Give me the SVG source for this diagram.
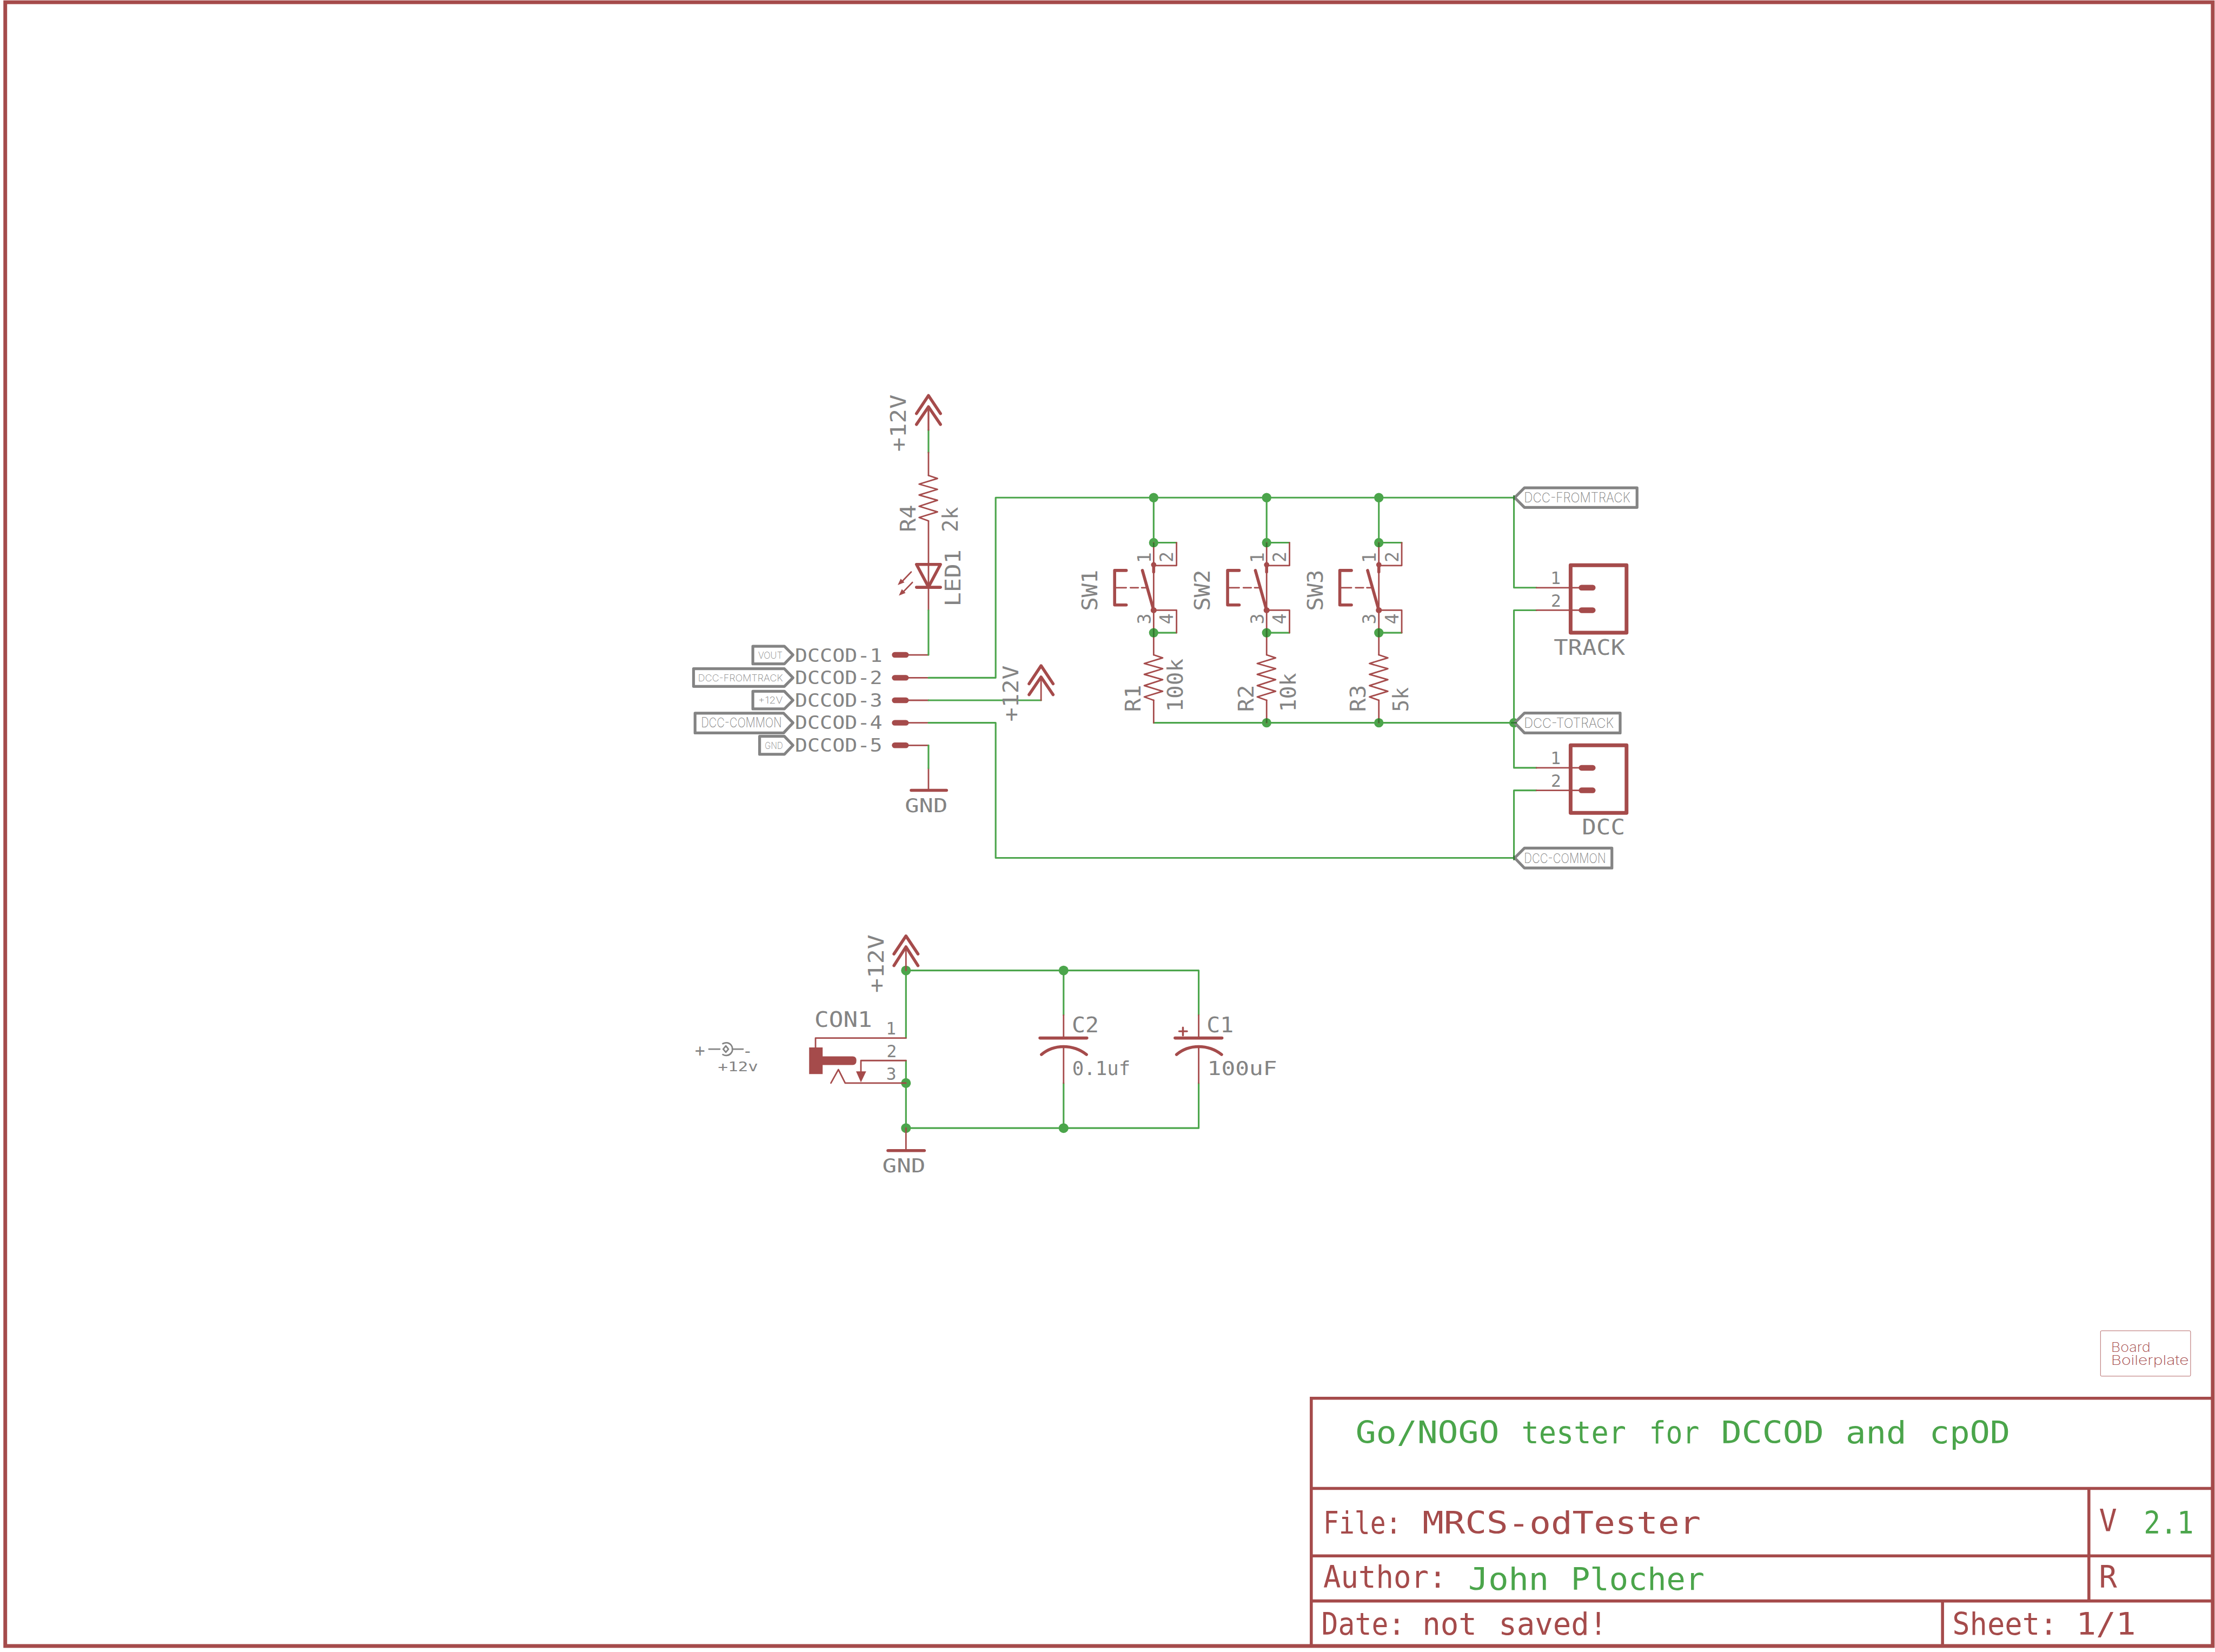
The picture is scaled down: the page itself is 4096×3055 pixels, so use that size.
<svg xmlns="http://www.w3.org/2000/svg" width="4096" height="3055" viewBox="0 0 4096 3055">
<style>
.r{fill:none;stroke:#A54B4B;stroke-width:4;stroke-linecap:round;stroke-linejoin:round}
.w{fill:none;stroke:#4BA54B;stroke-width:4.5;stroke-linecap:round;stroke-linejoin:round}
.k{fill:none;stroke:#A54B4B;stroke-width:8;stroke-linecap:round;stroke-linejoin:round}
.p{fill:none;stroke:#A54B4B;stroke-width:15;stroke-linecap:round}
.f{fill:#A54B4B;stroke:none}
.j{fill:#4BA54B}
.o{fill:none;stroke:#2E7A2E;stroke-width:4}
.fr{fill:none;stroke:#A54B4B;stroke-width:10;stroke-linecap:square}
.fl{fill:none;stroke:#A54B4B;stroke-width:8}
.n{fill:#fff;stroke:#848484;stroke-width:7.5;stroke-linejoin:round}
.sg{fill:none;stroke:#848484;stroke-width:4;stroke-linecap:round;stroke-linejoin:round}
text{font-family:"DejaVu Sans Mono","Liberation Mono",monospace;fill:#848484}
.tn{font-family:Inter,"Liberation Sans",sans-serif;font-weight:200;fill:#848484}
.tr{fill:#A54B4B}
.tg{fill:#4BA54B}
.s62{font-size:56px}
.s53{font-size:48px}
.s50{font-size:45px}
.s58{font-size:52px}
.s40{font-size:36px}
.s27{font-size:25px}
.s36{font-size:36px}
.s92{font-size:83px}
.bb{font-family:Inter,"Liberation Sans",sans-serif;font-weight:200;fill:#A54B4B;font-size:35px}
</style>
<defs>
<path id="res" class="r" d="M0 0L24 8L-25 23L24 37L-25 52L24 66L-25 82L24 97L-25 112L0 121"/>
<g id="pwr"><path class="k" d="M-32 -44L0 -92L32 -44M-32 -15L0 -62L32 -15"/><path class="r" d="M0 -62V0"/></g>
<g id="pwr2"><path class="k" d="M-32 -44L0 -92L32 -44M-32 -13L0 -63L32 -13"/><path class="r" d="M0 -63V0"/></g>
<g id="sw">
<path class="k" d="M-104 -106H-73M-104 -14H-73M-104 -106V-14M-30 -106L0 0"/>
<path class="r" d="M-104 -60H-73M-62 -60H-41M-32 -60H-16"/>
<path class="r" d="M0 -180V-101M0 -119H61M61 -180V-119M0 -101V0H61M61 0V60M0 0V119"/>
<path class="k" d="M0 -119V-102"/>
<circle class="f" cx="0" cy="-121" r="7"/>
<circle class="f" cx="0" cy="0" r="8"/>
</g>
<g id="pad"><path class="p" d="M0 0H30"/></g>
<g id="box"><rect class="k" x="0" y="0" width="149" height="180" style="stroke-width:10"/></g>
</defs>
<g transform="scale(0.694)">
<g id="frame">
<rect class="fr" x="14" y="6" width="5882" height="4380"/>
</g>
<g id="title-block">
<path class="fl" d="M3494 4386V3726H5896M3494 3966H5896M3494 4146H5896M3494 4266H5896M5566 3966V4266M5176 4266V4386"/>
<text class="tg s92" y="3846"><tspan x="3612" y="3846" textLength="383" lengthAdjust="spacingAndGlyphs">Go/NOGO</tspan> <tspan x="4054" y="3846" textLength="279" lengthAdjust="spacingAndGlyphs">tester</tspan> <tspan x="4394" y="3846" textLength="134" lengthAdjust="spacingAndGlyphs">for</tspan> <tspan x="4586" y="3846" textLength="274" lengthAdjust="spacingAndGlyphs">DCCOD</tspan> <tspan x="4918" y="3846" textLength="162" lengthAdjust="spacingAndGlyphs">and</tspan> <tspan x="5141" y="3846" textLength="215" lengthAdjust="spacingAndGlyphs">cpOD</tspan></text>
<text class="tr s92" y="4086"><tspan x="3526" y="4086" textLength="208" lengthAdjust="spacingAndGlyphs">File:</tspan> <tspan x="3790" y="4086" textLength="742" lengthAdjust="spacingAndGlyphs">MRCS-odTester</tspan></text>
<text class="tr s92" x="3526" y="4230" textLength="328" lengthAdjust="spacingAndGlyphs">Author:</text>
<text class="tg s92" y="4236"><tspan x="3912" y="4236" textLength="215" lengthAdjust="spacingAndGlyphs">John</tspan> <tspan x="4186" y="4236" textLength="356" lengthAdjust="spacingAndGlyphs">Plocher</tspan></text>
<text class="tr s92" y="4356"><tspan x="3521" y="4356" textLength="223" lengthAdjust="spacingAndGlyphs">Date:</tspan> <tspan x="3790" y="4356" textLength="145" lengthAdjust="spacingAndGlyphs">not</tspan> <tspan x="3993" y="4356" textLength="290" lengthAdjust="spacingAndGlyphs">saved!</tspan></text>
<text class="tr s92" y="4356"><tspan x="5202" y="4356" textLength="280" lengthAdjust="spacingAndGlyphs">Sheet:</tspan> <tspan x="5532" y="4356" textLength="159" lengthAdjust="spacingAndGlyphs">1/1</tspan></text>
<text class="tr s92" x="5593" y="4080" textLength="48" lengthAdjust="spacingAndGlyphs">V</text>
<text class="tg s92" x="5712" y="4086" textLength="133" lengthAdjust="spacingAndGlyphs">2.1</text>
<text class="tr s92" x="5593" y="4231" textLength="48" lengthAdjust="spacingAndGlyphs">R</text>
</g>
<g id="board-boilerplate">
<rect x="5597" y="3546" width="240" height="121" rx="3" fill="none" stroke="#A54B4B" stroke-width="1.2"/>
<text class="bb" x="5625" y="3602" textLength="105" lengthAdjust="spacingAndGlyphs">Board</text>
<text class="bb" x="5625" y="3637" textLength="207" lengthAdjust="spacingAndGlyphs">Boilerplate</text>
</g>
<g id="connectors">
<path class="r" d="M2474 1084V1146"/>
<path class="w" d="M2474 1146V1206"/>
<path class="r" d="M2474 1206V1267M2474 1388V1626M2420 1745H2474M2420 1806H2474M2420 1866H2474M2420 1926H2474M2420 1986H2474M2474 2047V2106"/>
<path class="w" d="M2474 1626V1745M2474 1806H2653V1326H4034V1566H4094M2474 1866H2774M2474 1926H2653V2286H4034V2106H4094M2474 1986V2047"/>
<path class="w" d="M4094 1626H4034V2046H4094M3074 1926H4034"/>
<path class="w" d="M3074 1326V1446H3135M3375 1326V1446H3436M3674 1326V1446H3735M3074 1686H3135M3375 1686H3436M3674 1686H3735"/>
<path class="w" d="M2414 2766V2586H3194V2705M2414 2826V3006H3194V2886M2834 2586V2705M2834 2886V3006"/>
<g class="j">
<circle cx="3074" cy="1326" r="12.5"/><circle cx="3375" cy="1326" r="12.5"/><circle cx="3674" cy="1326" r="12.5"/>
<circle cx="3074" cy="1446" r="12.5"/><circle cx="3375" cy="1446" r="12.5"/><circle cx="3674" cy="1446" r="12.5"/>
<circle cx="3074" cy="1686" r="12.5"/><circle cx="3375" cy="1686" r="12.5"/><circle cx="3674" cy="1686" r="12.5"/>
<circle cx="3375" cy="1926" r="12.5"/><circle cx="3674" cy="1926" r="12.5"/><circle cx="4034" cy="1926" r="12.5"/>
<circle cx="2414" cy="2586" r="13"/><circle cx="2414" cy="2886" r="13"/><circle cx="2414" cy="3006" r="13"/>
<circle cx="2834" cy="2586" r="13"/><circle cx="2834" cy="3006" r="13"/>
</g>
</g>
<g id="P-12V-1"><use href="#pwr" x="2474" y="1146"/><text class="s62" transform="rotate(-90 2413 1204)" x="2413" y="1204" textLength="153" lengthAdjust="spacingAndGlyphs">+12V</text></g>
<g id="R4"><use href="#res" x="2474" y="1267"/>
<text class="s62" transform="rotate(-90 2440 1418)" x="2440" y="1418" textLength="73" lengthAdjust="spacingAndGlyphs">R4</text>
<text class="s62" transform="rotate(-90 2552 1418)" x="2552" y="1418" textLength="67" lengthAdjust="spacingAndGlyphs">2k</text></g>
<g id="LED1">
<path class="k" d="M2442 1504H2506L2474 1564ZM2442 1565H2506"/>
<path class="r" d="M2428 1524L2403 1550M2431 1552L2406 1578"/>
<path class="f" d="M2392 1559L2400 1542L2410 1552ZM2395 1587L2403 1570L2413 1580Z"/>
<text class="s62" transform="rotate(-90 2559 1616)" x="2559" y="1616" textLength="152" lengthAdjust="spacingAndGlyphs">LED1</text></g>
<g id="DCCOD">
<use href="#pad" x="2384" y="1745"/><use href="#pad" x="2384" y="1806"/><use href="#pad" x="2384" y="1866"/><use href="#pad" x="2384" y="1926"/><use href="#pad" x="2384" y="1986"/>
<text class="s53" x="2118" y="1763" textLength="233" lengthAdjust="spacingAndGlyphs">DCCOD-1</text>
<text class="s53" x="2118" y="1823" textLength="233" lengthAdjust="spacingAndGlyphs">DCCOD-2</text>
<text class="s53" x="2118" y="1883" textLength="233" lengthAdjust="spacingAndGlyphs">DCCOD-3</text>
<text class="s53" x="2118" y="1943" textLength="233" lengthAdjust="spacingAndGlyphs">DCCOD-4</text>
<text class="s53" x="2118" y="2003" textLength="233" lengthAdjust="spacingAndGlyphs">DCCOD-5</text>
</g>
<g id="label-DCC-COMMON-left"><path class="n" d="M1852 1900.5H2088L2113 1926L2088 1953H1852Z"/><text class="tn s36" x="1868" y="1938" textLength="215" lengthAdjust="spacingAndGlyphs">DCC-COMMON</text></g>
<g id="label-VOUT"><path class="n" d="M2006 1722H2090L2113 1745L2090 1769H2006Z"/><text class="tn s27" x="2020" y="1755" textLength="65" lengthAdjust="spacingAndGlyphs">VOUT</text></g>
<g id="label-DCC-FROMTRACK-left"><path class="n" d="M1848 1782H2090L2113 1806L2090 1829H1848Z"/><text class="tn s27" x="1860" y="1815" textLength="226" lengthAdjust="spacingAndGlyphs">DCC-FROMTRACK</text></g>
<g id="label-12V"><path class="n" d="M2006 1842H2090L2113 1866L2090 1889H2006Z"/><text class="tn s27" x="2020" y="1875" textLength="66" lengthAdjust="spacingAndGlyphs">+12V</text></g>
<g id="label-GND"><path class="n" d="M2024 1962H2090L2113 1986L2090 2010H2024Z"/><text class="tn s27" x="2038" y="1995" textLength="48" lengthAdjust="spacingAndGlyphs">GND</text></g>
<g id="GND-1"><path class="k" d="M2428 2106H2522"/><text class="s58" x="2411" y="2164" textLength="114" lengthAdjust="spacingAndGlyphs">GND</text></g>
<g id="P-12V-2"><use href="#pwr" x="2774" y="1866"/><text class="s62" transform="rotate(-90 2713 1923)" x="2713" y="1923" textLength="150" lengthAdjust="spacingAndGlyphs">+12V</text></g>
<g id="SW1"><use href="#sw" x="3074" y="1626"/>
<text class="s62" transform="rotate(-90 2924 1628)" x="2924" y="1628" textLength="110" lengthAdjust="spacingAndGlyphs">SW1</text>
<text class="s53" text-anchor="middle" transform="rotate(-90 3066 1486)" x="3066" y="1486">1</text>
<text class="s53" text-anchor="middle" transform="rotate(-90 3126 1484)" x="3126" y="1484">2</text>
<text class="s53" text-anchor="middle" transform="rotate(-90 3066 1649)" x="3066" y="1649">3</text>
<text class="s53" text-anchor="middle" transform="rotate(-90 3126 1649)" x="3126" y="1649">4</text></g>
<g id="SW2"><use href="#sw" x="3375" y="1626"/>
<text class="s62" transform="rotate(-90 3224 1628)" x="3224" y="1628" textLength="110" lengthAdjust="spacingAndGlyphs">SW2</text>
<text class="s53" text-anchor="middle" transform="rotate(-90 3367 1486)" x="3367" y="1486">1</text>
<text class="s53" text-anchor="middle" transform="rotate(-90 3427 1484)" x="3427" y="1484">2</text>
<text class="s53" text-anchor="middle" transform="rotate(-90 3367 1649)" x="3367" y="1649">3</text>
<text class="s53" text-anchor="middle" transform="rotate(-90 3427 1649)" x="3427" y="1649">4</text></g>
<g id="SW3"><use href="#sw" x="3674" y="1626"/>
<text class="s62" transform="rotate(-90 3524 1628)" x="3524" y="1628" textLength="110" lengthAdjust="spacingAndGlyphs">SW3</text>
<text class="s53" text-anchor="middle" transform="rotate(-90 3666 1486)" x="3666" y="1486">1</text>
<text class="s53" text-anchor="middle" transform="rotate(-90 3726 1484)" x="3726" y="1484">2</text>
<text class="s53" text-anchor="middle" transform="rotate(-90 3666 1649)" x="3666" y="1649">3</text>
<text class="s53" text-anchor="middle" transform="rotate(-90 3726 1649)" x="3726" y="1649">4</text></g>
<g id="R1"><use href="#res" x="3074" y="1745"/><path class="r" d="M3074 1866V1926"/>
<text class="s62" transform="rotate(-90 3039 1897)" x="3039" y="1897" textLength="72" lengthAdjust="spacingAndGlyphs">R1</text>
<text class="s62" transform="rotate(-90 3152 1897)" x="3152" y="1897" textLength="142" lengthAdjust="spacingAndGlyphs">100k</text></g>
<g id="R2"><use href="#res" x="3375" y="1745"/><path class="r" d="M3375 1866V1926"/>
<text class="s62" transform="rotate(-90 3340 1897)" x="3340" y="1897" textLength="72" lengthAdjust="spacingAndGlyphs">R2</text>
<text class="s62" transform="rotate(-90 3452 1897)" x="3452" y="1897" textLength="104" lengthAdjust="spacingAndGlyphs">10k</text></g>
<g id="R3"><use href="#res" x="3674" y="1745"/><path class="r" d="M3674 1866V1926"/>
<text class="s62" transform="rotate(-90 3639 1897)" x="3639" y="1897" textLength="72" lengthAdjust="spacingAndGlyphs">R3</text>
<text class="s62" transform="rotate(-90 3752 1897)" x="3752" y="1897" textLength="66" lengthAdjust="spacingAndGlyphs">5k</text></g>
<g id="junction-marks">
<path class="o" d="M3074 1446V1458M3375 1446V1458M3674 1446V1458M3074 1674V1698M3375 1674V1698M3674 1674V1698M3375 1914V1926M3674 1914V1926M2414 2574V2586M2402 2886H2414M2414 3006V3018"/>
</g>
<g id="label-DCC-FROMTRACK"><path class="n" d="M4036 1326L4062 1300H4362V1352H4062Z"/><text class="tn s36" x="4061" y="1339" textLength="283" lengthAdjust="spacingAndGlyphs">DCC-FROMTRACK</text></g>
<g id="label-DCC-TOTRACK"><path class="n" d="M4036 1926L4062 1900H4317V1953H4062Z"/><text class="tn s36" x="4061" y="1940" textLength="239" lengthAdjust="spacingAndGlyphs">DCC-TOTRACK</text></g>
<g id="label-DCC-COMMON"><path class="n" d="M4036 2286L4062 2260H4295V2313H4062Z"/><text class="tn s36" x="4061" y="2299" textLength="218" lengthAdjust="spacingAndGlyphs">DCC-COMMON</text></g>
<g id="junction-label-marks"><path class="o" d="M4034 1320V1332M4026 1926H4042M4034 2280V2292"/></g>
<g id="TRACK"><path class="r" d="M4094 1566H4213M4094 1626H4213"/><use href="#box" x="4185" y="1506"/><use href="#pad" x="4214" y="1566"/><use href="#pad" x="4214" y="1626"/>
<text class="s50" text-anchor="middle" x="4145" y="1556">1</text><text class="s50" text-anchor="middle" x="4146" y="1617">2</text>
<text class="s62" x="4140" y="1745" textLength="190" lengthAdjust="spacingAndGlyphs">TRACK</text></g>
<g id="DCC"><path class="r" d="M4094 2046H4213M4094 2106H4213"/><use href="#box" x="4185" y="1986"/><use href="#pad" x="4214" y="2046"/><use href="#pad" x="4214" y="2106"/>
<text class="s50" text-anchor="middle" x="4145" y="2036">1</text><text class="s50" text-anchor="middle" x="4146" y="2097">2</text>
<text class="s62" x="4215" y="2224" textLength="115" lengthAdjust="spacingAndGlyphs">DCC</text></g>
<g id="P-12V-3"><use href="#pwr2" x="2414" y="2586"/><text class="s62" transform="rotate(-90 2354 2646)" x="2354" y="2646" textLength="156" lengthAdjust="spacingAndGlyphs">+12V</text></g>
<g id="CON1">
<path class="r" d="M2414 2766H2173V2791M2414 2826H2294V2860M2214 2886L2234 2850L2252 2886H2414"/>
<path class="f" d="M2156 2791H2192V2815H2272Q2282 2815 2282 2826Q2282 2838 2272 2838H2192V2862H2156ZM2281 2855H2308L2294 2884Z"/>
<text class="s62" x="2170" y="2736" textLength="154" lengthAdjust="spacingAndGlyphs">CON1</text>
<text class="s50" text-anchor="middle" x="2374" y="2757">1</text>
<text class="s50" text-anchor="middle" x="2376" y="2817">2</text>
<text class="s50" text-anchor="middle" x="2375" y="2877">3</text>
</g>
<g id="jack-symbol">
<path class="sg" d="M1889 2795.5H1918M1951 2795.5H1980M1926 2781A17 17 0 1 1 1926 2810M1934 2787L1941 2795.5L1934 2804L1927 2795.5Z"/>
<text class="s50" text-anchor="middle" x="1865" y="2816">+</text>
<text class="s50" text-anchor="middle" x="1992" y="2817">-</text>
<text class="s40" x="1913" y="2855" textLength="107" lengthAdjust="spacingAndGlyphs">+12v</text>
</g>
<g id="C2"><path class="r" d="M2834 2705V2766M2834 2789V2886"/><path class="k" d="M2771 2766H2896M2775 2810Q2800 2789 2834 2789Q2868 2789 2895 2810"/>
<text class="s62" x="2856" y="2751" textLength="72" lengthAdjust="spacingAndGlyphs">C2</text>
<text class="s58" x="2857" y="2865" textLength="155" lengthAdjust="spacingAndGlyphs">0.1uf</text></g>
<g id="C1"><path class="r" d="M3194 2705V2766M3194 2789V2886"/><path class="k" d="M3131 2766H3256M3135 2810Q3160 2789 3194 2789Q3228 2789 3255 2810"/>
<path class="r" d="M3142 2748H3163M3152 2738V2759" style="stroke-width:5"/>
<text class="s62" x="3215" y="2751" textLength="72" lengthAdjust="spacingAndGlyphs">C1</text>
<text class="s58" x="3217" y="2865" textLength="186" lengthAdjust="spacingAndGlyphs">100uF</text></g>
<g id="GND-2"><path class="r" d="M2414 3006V3066"/><path class="k" d="M2366 3066H2463"/><text class="s58" x="2351" y="3124" textLength="115" lengthAdjust="spacingAndGlyphs">GND</text></g>
</g>
</svg>
